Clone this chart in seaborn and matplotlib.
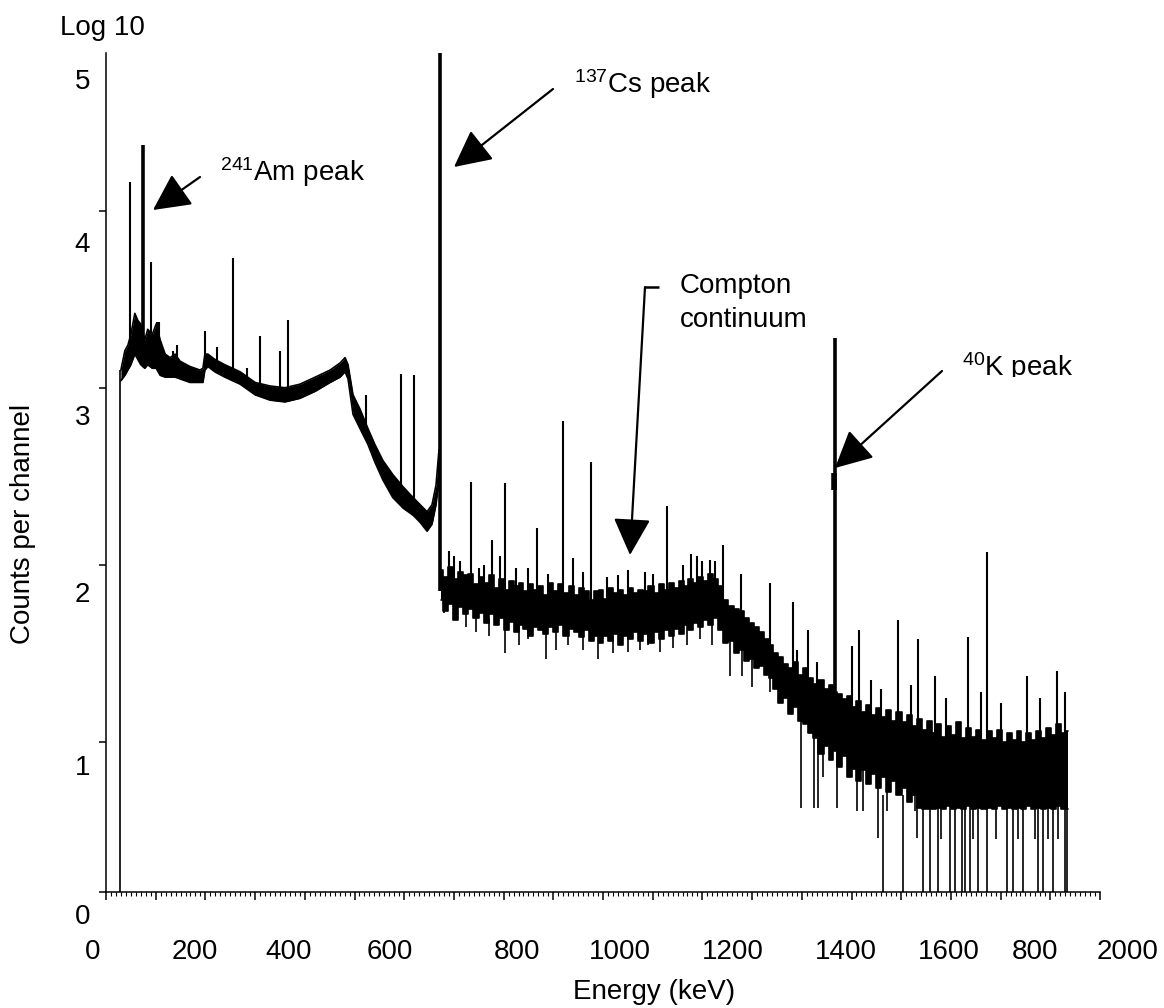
import matplotlib
matplotlib.use("Agg")
import matplotlib.pyplot as plt
from matplotlib.lines import Line2D
from matplotlib.ticker import MultipleLocator, FixedLocator
from matplotlib.transforms import Bbox
import pandas as pd
import seaborn as sns

# continuum envelope (energy in keV, log10 counts per channel)
band_energy = [30, 38, 44, 50, 58, 64, 70, 78, 84, 93, 101, 109, 119, 129, 139, 149, 169, 189, 195,
               199, 205, 219, 239, 270, 300, 330, 360, 390, 421, 451, 471, 481, 487, 497, 511, 527,
               541, 557, 577, 598, 618, 632, 646, 656, 664, 670,
               674, 684, 694, 704, 714, 724, 734, 744, 755, 765, 775, 785, 795, 805, 815, 825, 835,
               845, 855, 865, 875, 885, 895, 905, 915, 926, 936, 946, 956, 966, 976, 986, 996, 1006,
               1016, 1026, 1036, 1046, 1056, 1066, 1076, 1086, 1097, 1107, 1117, 1127, 1137, 1147,
               1157, 1167, 1177, 1187, 1197, 1207, 1217, 1227, 1237, 1247, 1258, 1268, 1278, 1288,
               1298, 1308, 1318, 1328, 1338, 1348, 1358, 1368, 1378, 1388, 1398, 1408, 1418, 1428,
               1439, 1449, 1459, 1465, 1475, 1485, 1495, 1505, 1515, 1525, 1535, 1545, 1555, 1565,
               1575, 1585, 1596, 1606, 1616, 1626, 1636, 1646, 1656, 1666, 1676, 1686, 1696, 1706,
               1716, 1726, 1736, 1746, 1756, 1767, 1777, 1787, 1797, 1807, 1817, 1827, 1837, 1847,
               1857, 1867, 1877, 1887, 1897, 1907, 1917, 1927, 1936]
band_high = [3.10, 3.21, 3.24, 3.30, 3.42, 3.38, 3.36, 3.27, 3.33, 3.30, 3.36, 3.27, 3.19, 3.17, 3.19,
             3.15, 3.12, 3.10, 3.11, 3.19, 3.19, 3.16, 3.13, 3.09, 3.03, 3.01, 3.00, 3.02, 3.06, 3.10,
             3.14, 3.17, 3.13, 2.96, 2.88, 2.77, 2.68, 2.59, 2.51, 2.44, 2.38, 2.34, 2.30, 2.34, 2.45,
             2.65,
             1.97, 1.93, 1.99, 1.92, 1.96, 1.94, 1.95, 1.89, 1.93, 1.90, 1.94, 1.87, 1.92, 1.86, 1.91,
             1.88, 1.90, 1.85, 1.89, 1.86, 1.88, 1.83, 1.90, 1.85, 1.89, 1.84, 1.88, 1.83, 1.87, 1.85,
             1.80, 1.85, 1.86, 1.81, 1.87, 1.84, 1.86, 1.83, 1.87, 1.84, 1.86, 1.85, 1.88, 1.84, 1.89,
             1.86, 1.90, 1.87, 1.91, 1.88, 1.92, 1.90, 1.93, 1.91, 1.95, 1.92, 1.88, 1.80, 1.77, 1.75,
             1.74, 1.70, 1.67, 1.65, 1.62, 1.58, 1.55, 1.50, 1.48, 1.44, 1.42, 1.45, 1.38, 1.42, 1.36,
             1.33, 1.35, 1.30, 1.32, 1.28, 1.27, 1.24, 1.26, 1.20, 1.23, 1.17, 1.21, 1.15, 1.19, 1.14,
             1.18, 1.12, 1.17, 1.11, 1.15, 1.09, 1.13, 1.07, 1.12, 1.05, 1.10, 1.03, 1.09, 1.04, 1.11,
             1.02, 1.08, 1.03, 1.07, 1.01, 1.06, 1.02, 1.07, 1.00, 1.05, 1.01, 1.06, 1.00, 1.05, 1.01,
             1.06, 1.02, 1.08, 1.04, 1.10, 1.05, 1.06]
band_low = [3.04, 3.07, 3.10, 3.13, 3.19, 3.16, 3.13, 3.11, 3.13, 3.11, 3.11, 3.07, 3.06, 3.06, 3.06,
            3.05, 3.03, 3.03, 3.03, 3.10, 3.12, 3.09, 3.06, 3.02, 2.96, 2.93, 2.92, 2.94, 2.98, 3.03,
            3.06, 3.09, 3.05, 2.85, 2.77, 2.68, 2.58, 2.48, 2.38, 2.32, 2.28, 2.24, 2.19, 2.23, 2.34,
            2.48,
            1.80, 1.74, 1.78, 1.69, 1.76, 1.72, 1.75, 1.70, 1.73, 1.67, 1.72, 1.66, 1.70, 1.63, 1.68,
            1.62, 1.66, 1.64, 1.60, 1.65, 1.63, 1.61, 1.65, 1.62, 1.66, 1.60, 1.64, 1.62, 1.59, 1.63,
            1.57, 1.60, 1.56, 1.60, 1.57, 1.61, 1.55, 1.60, 1.58, 1.62, 1.57, 1.61, 1.56, 1.62, 1.58,
            1.63, 1.60, 1.64, 1.61, 1.66, 1.63, 1.67, 1.65, 1.69, 1.66, 1.70, 1.63, 1.56, 1.57, 1.50,
            1.52, 1.46, 1.47, 1.42, 1.43, 1.38, 1.36, 1.30, 1.22, 1.25, 1.16, 1.20, 1.12, 1.10, 1.05,
            1.02, 0.93, 0.98, 0.90, 0.95, 0.86, 0.92, 0.80, 0.85, 0.78, 0.84, 0.76, 0.82, 0.74, 0.80,
            0.72, 0.78, 0.70, 0.74, 0.66, 0.70, 0.63, 0.62, 0.62, 0.62, 0.63, 0.62, 0.64, 0.62, 0.63,
            0.62, 0.64, 0.62, 0.63, 0.62, 0.63, 0.62, 0.64, 0.62, 0.63, 0.62, 0.63, 0.62, 0.64, 0.62,
            0.63, 0.62, 0.63, 0.62, 0.64, 0.62, 0.62]

# narrow lines rising above the continuum
peak_energy = [48, 91, 103, 107, 135, 143, 199, 223, 256, 284, 310, 350, 366, 523, 594, 620,
               690, 700, 712, 734, 750, 760, 777, 793, 803, 825, 850, 867, 890, 919, 940, 960, 976,
               1008, 1030, 1050, 1085, 1100, 1129, 1160, 1177, 1190, 1200, 1215, 1225, 1241, 1278,
               1336, 1382, 1390, 1412, 1430, 1501, 1515, 1540, 1560, 1594, 1620, 1634, 1668, 1690,
               1734, 1760, 1773, 1800, 1853, 1880, 1913, 1930]
peak_low = [3.15, 3.15, 3.15, 3.15, 3.10, 3.10, 3.12, 3.10, 3.05, 3.00, 2.97, 2.95, 2.95, 2.72, 2.36,
            2.30, 1.90, 1.80, 1.90, 1.80, 1.85, 1.75, 1.75, 1.75, 1.72, 1.70, 1.80, 1.70, 1.70, 1.70,
            1.70, 1.78, 1.65, 1.65, 1.78, 1.65, 1.80, 1.65, 1.70, 1.85, 1.72, 1.85, 1.70, 1.70, 1.85,
            1.65, 1.55, 1.40, 1.25, 1.20, 1.15, 1.10, 1.00, 1.00, 0.90, 0.85, 0.90, 0.80, 0.85, 0.85,
            0.80, 0.80, 0.80, 0.80, 0.80, 0.80, 0.80, 0.80, 0.80]
peak_high = [4.16, 3.71, 3.37, 3.37, 3.21, 3.24, 3.32, 3.23, 3.73, 3.11, 3.29, 3.21, 3.38, 2.96, 3.08,
             3.07, 2.08, 2.05, 2.02, 2.47, 1.98, 2.00, 2.14, 2.05, 2.46, 1.98, 1.98, 2.21, 1.95, 2.81,
             2.04, 1.96, 2.58, 1.93, 1.94, 1.97, 1.96, 1.95, 2.33, 2.00, 2.06, 2.05, 2.02, 2.03, 2.02,
             2.11, 1.95, 1.90, 1.79, 1.52, 1.63, 1.45, 1.54, 1.63, 1.35, 1.30, 1.69, 1.32, 1.58, 1.37,
             1.25, 1.59, 1.28, 2.07, 1.22, 1.37, 1.25, 1.40, 1.28]

# the three labelled photopeaks
main_peak_energy = [74, 672, 1467]
main_peak_low = [3.15, 1.85, 0.95]
main_peak_high = [4.37, 4.95, 3.28]

# channels falling below the continuum
dip_energy = [28, 680, 724, 745, 770, 803, 830, 850, 885, 905, 930, 960, 990, 1020, 1050, 1075,
              1090, 1115, 1140, 1170, 1195, 1220, 1255, 1280, 1300, 1336,
              1398, 1425, 1433, 1443, 1471, 1511, 1523, 1553, 1572, 1591, 1628, 1632,
              1563, 1604, 1644, 1658, 1674, 1698, 1708, 1722, 1728, 1738, 1754, 1773, 1813,
              1825, 1845, 1875, 1885, 1905, 1929, 1934,
              1680, 1745, 1790, 1835, 1870, 1895, 1915]
dip_low = [0.15, 1.73, 1.65, 1.62, 1.60, 1.50, 1.55, 1.58, 1.47, 1.52, 1.55, 1.52, 1.47, 1.50, 1.51,
           1.52, 1.55, 1.51, 1.53, 1.55, 1.58, 1.55, 1.37, 1.37, 1.31, 1.28,
           0.63, 0.63, 0.63, 0.80, 0.63, 0.61, 0.61, 0.46, 0.61, 0.74, 0.61, 0.46,
           0.15, 0.15, 0.15, 0.15, 0.15, 0.15, 0.15, 0.15, 0.15, 0.15, 0.15, 0.15, 0.15,
           0.15, 0.15, 0.15, 0.15, 0.15, 0.15, 0.15,
           0.45, 0.45, 0.45, 0.45, 0.45, 0.45, 0.45]
dip_high = [3.10, 1.85, 1.78, 1.72, 1.70, 1.70, 1.66, 1.65, 1.66, 1.64, 1.63, 1.62, 1.62, 1.60, 1.65,
            1.60, 1.62, 1.66, 1.63, 1.68, 1.68, 1.68, 1.60, 1.55, 1.50, 1.45,
            1.20, 1.10, 1.10, 1.00, 1.00, 0.90, 0.90, 0.85, 0.85, 0.85, 0.80, 0.75,
            0.70, 0.70, 0.70, 0.70, 0.70, 0.70, 0.70, 0.70, 0.70, 0.70, 0.70, 0.70, 0.70,
            0.70, 0.70, 0.70, 0.70, 0.70, 0.70, 0.70,
            0.70, 0.70, 0.70, 0.70, 0.70, 0.70, 0.70]

# printed axis labels (as in the source figure, incl. its "800" at 1800)
x_tick_text = ["0", "200", "400", "600", "800", "1000", "1200", "1400", "1600", "800", "2000"]
y_tick_text = ["0", "1", "2", "3", "4", "5"]

sns.set_theme(style="ticks")
plt.rcParams["font.family"] = ["Liberation Sans", "DejaVu Sans"]
plt.rcParams["mathtext.fontset"] = "custom"
plt.rcParams["mathtext.rm"] = "Liberation Sans"
plt.rcParams["mathtext.default"] = "regular"
plt.rcParams["text.color"] = "black"

W, H = 1164, 1008
FS = 20


def fx(px):
    return px / W


def fy(py):
    return 1 - py / H


fig = plt.figure(figsize=(W / 100, H / 100), dpi=100)
ax = fig.add_axes([fx(106), fy(892), (1100 - 106) / W, (892 - 53) / H])

band = pd.DataFrame({"energy": band_energy, "high": band_high, "low": band_low})
smooth = band[band["energy"] < 672]
noisy = band[band["energy"] >= 672]

ax.fill_between(smooth["energy"], smooth["low"], smooth["high"], color="black", lw=0)
sns.lineplot(data=smooth, x="energy", y="high", ax=ax, color="black", lw=1.2, estimator=None)
sns.lineplot(data=smooth, x="energy", y="low", ax=ax, color="black", lw=1.2, estimator=None)

ax.fill_between(noisy["energy"], noisy["low"], noisy["high"], step="mid", color="black", lw=0)
sns.lineplot(data=noisy, x="energy", y="high", ax=ax, color="black", lw=1.2, estimator=None,
             drawstyle="steps-mid")
sns.lineplot(data=noisy, x="energy", y="low", ax=ax, color="black", lw=1.2, estimator=None,
             drawstyle="steps-mid")

ax.vlines(peak_energy, peak_low, peak_high, color="black", lw=1.5)
ax.vlines(dip_energy, dip_low, dip_high, color="black", lw=1.2)
ax.vlines(main_peak_energy, main_peak_low, main_peak_high, color="black", lw=2.6)
ax.vlines([1464], [2.42], [2.52], color="black", lw=4)

ax.set_xlim(0, 2000)
ax.set_ylim(0.153, 4.89)
ax.set_xlabel("")
ax.set_ylabel("")
ax.xaxis.set_major_locator(MultipleLocator(100))
ax.xaxis.set_minor_locator(MultipleLocator(10))
ax.yaxis.set_major_locator(FixedLocator([0.153, 1, 2, 3, 4]))
ax.tick_params(axis="x", which="major", length=6, width=1.1, color="black", labelbottom=False)
ax.tick_params(axis="x", which="minor", length=3, width=0.8, color="black")
ax.tick_params(axis="y", which="major", length=5, width=1.1, color="black", labelleft=False)
for side in ["top", "right"]:
    ax.spines[side].set_visible(False)
for side in ["left", "bottom"]:
    ax.spines[side].set_color("black")
    ax.spines[side].set_linewidth(1.1)

# tick labels sit where the original drawing put them
for txt, px in zip(x_tick_text, [93, 195, 289, 390, 517, 620, 733, 846, 949, 1035, 1128]):
    fig.text(fx(px), fy(952), txt, ha="center", va="center", fontsize=FS, color="black")
for txt, py in zip(y_tick_text, [917, 768, 595, 418, 245, 82]):
    fig.text(fx(90), fy(py), txt, ha="right", va="center", fontsize=FS, color="black")

fig.text(fx(654), fy(992), "Energy (keV)", ha="center", va="center", fontsize=FS, color="black")
fig.text(fx(23), fy(524), "Counts per channel", ha="center", va="center", rotation=90,
         fontsize=FS, color="black")
fig.text(fx(102), fy(28), "Log 10", ha="center", va="center", fontsize=FS, color="black")

arrow = dict(arrowstyle="-|>,head_length=1.15,head_width=0.58", color="black", lw=1.6,
             shrinkA=0, shrinkB=0, mutation_scale=20)


def pointer(tail, tip):
    ax.annotate("", xy=(fx(tip[0]), fy(tip[1])), xytext=(fx(tail[0]), fy(tail[1])),
                xycoords="figure fraction", textcoords="figure fraction", arrowprops=arrow)


fig.text(fx(220), fy(181), r"$^{241}$Am peak", ha="left", va="baseline", fontsize=FS, color="black")
pointer((200, 177), (153, 210))

fig.text(fx(574), fy(93), r"$^{137}$Cs peak", ha="left", va="baseline", fontsize=FS, color="black")
pointer((553, 89), (454, 167))

fig.text(fx(680), fy(293), "Compton", ha="left", va="baseline", fontsize=FS, color="black")
fig.text(fx(680), fy(327), "continuum", ha="left", va="baseline", fontsize=FS, color="black")
fig.add_artist(Line2D([fx(645), fx(659)], [fy(287), fy(287)], transform=fig.transFigure,
                      color="black", lw=1.8, solid_capstyle="butt"))
pointer((645, 287), (630, 555))

k_label = fig.text(fx(962), fy(376), r"$^{40}$K peak", ha="left", va="baseline", fontsize=FS,
                   color="black")
k_label.set_clip_box(Bbox.from_extents(900, H - 377, W, H - 320))
k_label.set_clip_on(True)
pointer((942, 371), (835, 468))

fig.savefig("out.png", dpi=100, facecolor="white")
